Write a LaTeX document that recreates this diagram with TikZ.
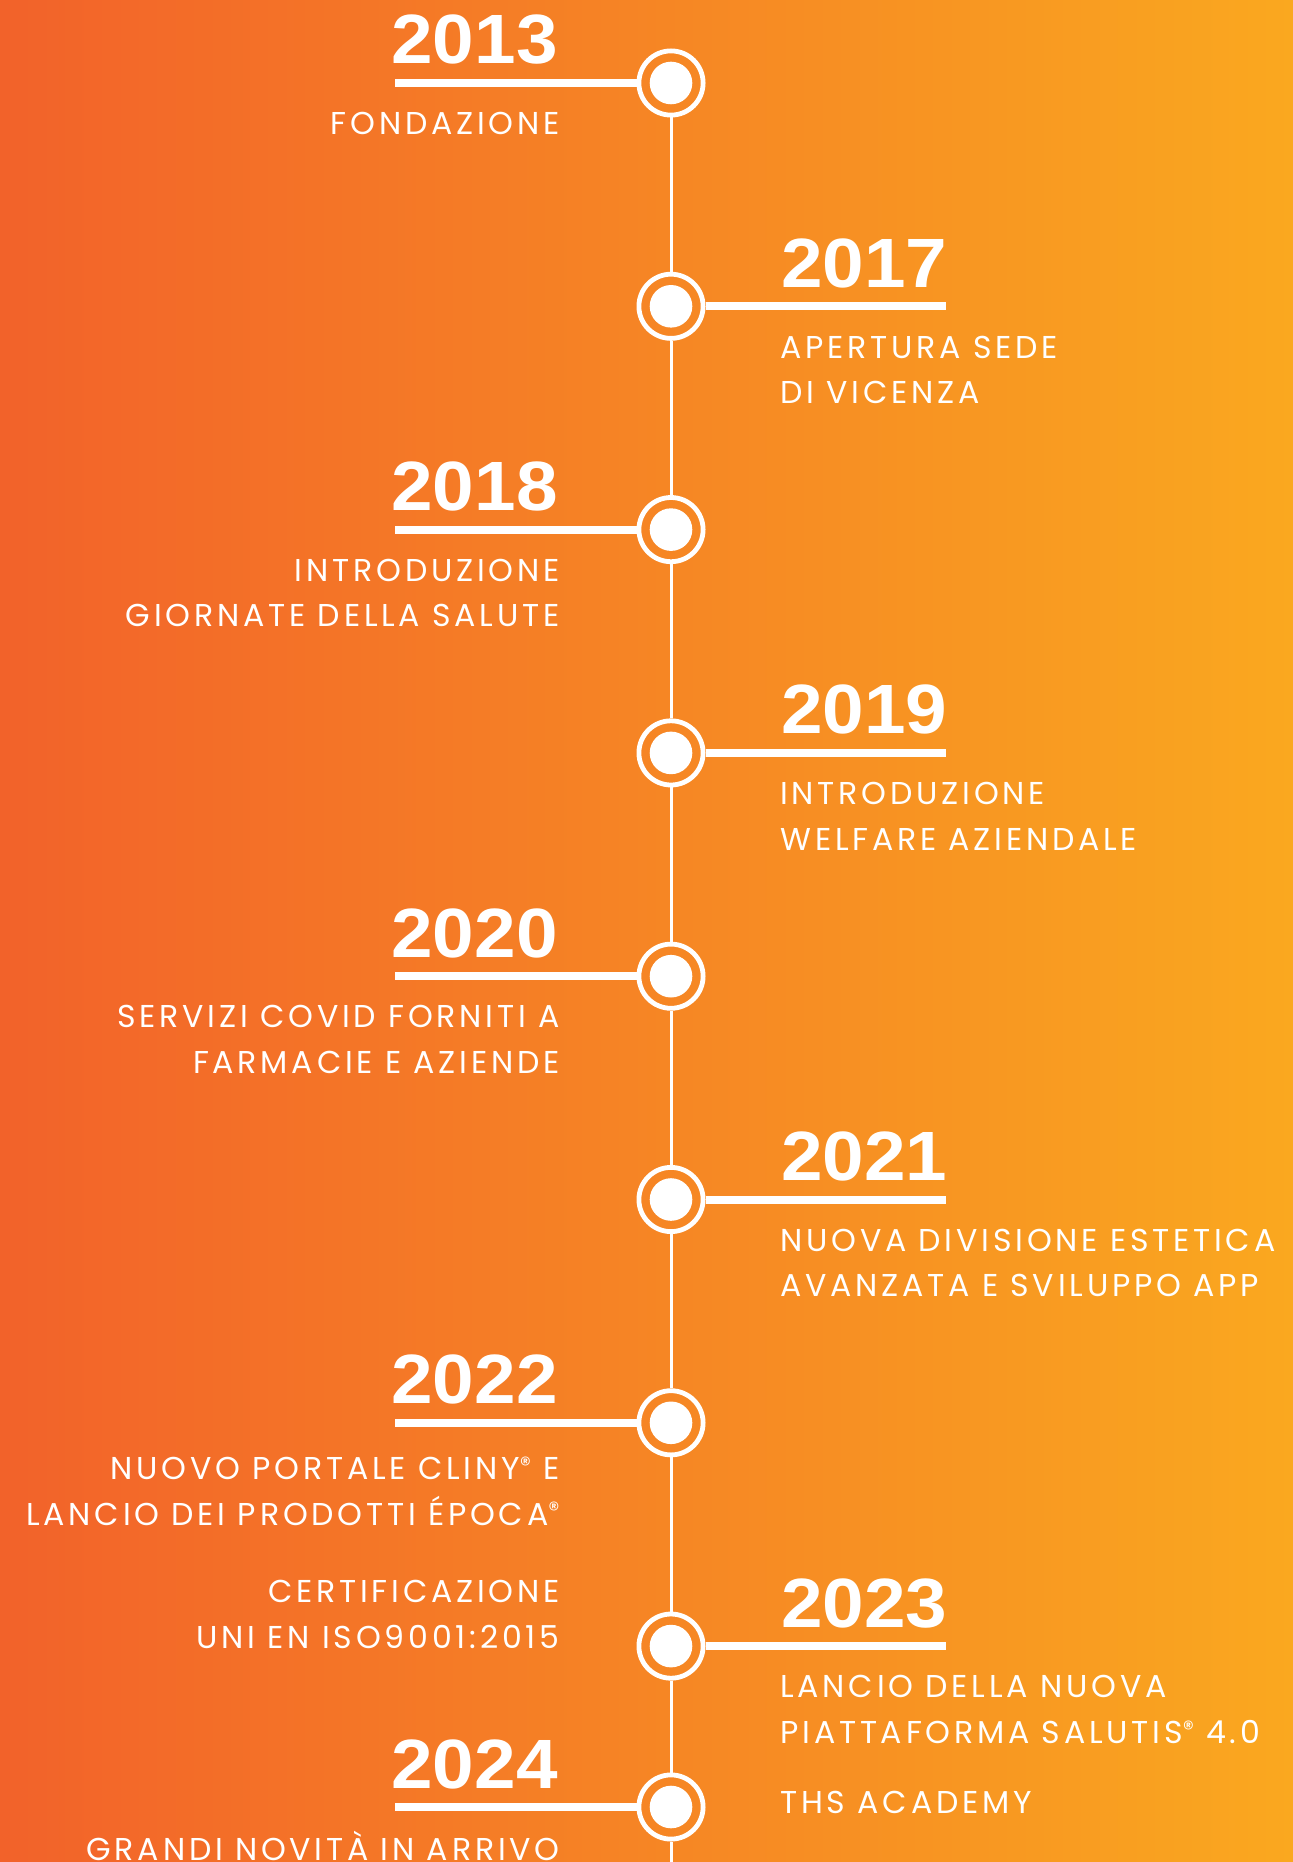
\documentclass[tikz,border=0pt]{standalone}
\usepackage{fontspec}
\usepackage{tikz}
\usetikzlibrary{
    positioning,
    calc
}
\newfontfamily\yearfamily{Liberation Sans}[FakeStretch=1.07]
\newfontfamily\notefamily{Poppins}[LetterSpace=12.0]
\newcommand{\regmark}{\smash{\raisebox{3.6pt}{\fontsize{11pt}{11pt}\selectfont ®}}}
\definecolor{WarmRed}{RGB}{242,98,42}
\definecolor{WarmAmber}{RGB}{250,168,31}
\tikzset{
    milestone/.style={circle, draw=white, line width=2.4pt, minimum size=32.1pt, inner sep=0pt,
        path picture={\fill[white] (path picture bounding box.center) circle (10.65pt);}},
    spine/.style={draw=white, line width=1.5pt},
    yearbar/.style={draw=white, line width=4pt},
    year/.style={font=\yearfamily\bfseries\fontsize{34.9pt}{40pt}\selectfont, text=white, inner sep=0pt},
    noteL/.style={font=\notefamily\fontsize{15.8pt}{22.8pt}\selectfont, text=white, inner sep=0pt, align=right, anchor=north east},
    noteR/.style={font=\notefamily\fontsize{15.8pt}{22.8pt}\selectfont, text=white, inner sep=0pt, align=left, anchor=north west}
}

\begin{document}
\begin{tikzpicture}[x=0.5pt, y=-0.5pt]
                    \useasboundingbox (0,0) rectangle (1293,1862);
                    \fill[left color=WarmRed, right color=WarmAmber] (0,0) rectangle (1293,1862);
                    \coordinate (Top) at (671,83);
                    \coordinate (SpineEnd) at (671,1862);
                    \def\RowGap{223.3}
                    \node[milestone] (c2013) at (Top) {};
                    \node[milestone] (c2017) at ($(Top)+(0,\RowGap)$) {};
                    \node[milestone] (c2018) at ($(Top)+(0,2*\RowGap)$) {};
                    \node[milestone] (c2019) at ($(Top)+(0,3*\RowGap)$) {};
                    \node[milestone] (c2020) at ($(Top)+(0,4*\RowGap)$) {};
                    \node[milestone] (c2021) at ($(Top)+(0,5*\RowGap)$) {};
                    \node[milestone] (c2022) at ($(Top)+(0,6*\RowGap)$) {};
                    \node[milestone] (c2023) at ($(Top)+(0,7*\RowGap)$) {};
                    \node[milestone] (c2024) at (671,1807) {};
                    \draw[spine] (c2013) -- (c2017);
                    \draw[spine] (c2017) -- (c2018);
                    \draw[spine] (c2018) -- (c2019);
                    \draw[spine] (c2019) -- (c2020);
                    \draw[spine] (c2020) -- (c2021);
                    \draw[spine] (c2021) -- (c2022);
                    \draw[spine] (c2022) -- (c2023);
                    \draw[spine] (c2023) -- (c2024);
                    \draw[spine] (c2024) -- (SpineEnd);
                    \coordinate (b2013) at ($(c2013)+(-276,0)$);
                    \coordinate (b2017) at ($(c2017)+(275,0)$);
                    \coordinate (b2018) at ($(c2018)+(-276,0)$);
                    \coordinate (b2019) at ($(c2019)+(275,0)$);
                    \coordinate (b2020) at ($(c2020)+(-276,0)$);
                    \coordinate (b2021) at ($(c2021)+(275,0)$);
                    \coordinate (b2022) at ($(c2022)+(-276,0)$);
                    \coordinate (b2023) at ($(c2023)+(275,0)$);
                    \coordinate (b2024) at ($(c2024)+(-276,0)$);
                    \draw[yearbar] (c2013) -- (b2013);
                    \draw[yearbar] (c2017) -- (b2017);
                    \draw[yearbar] (c2018) -- (b2018);
                    \draw[yearbar] (c2019) -- (b2019);
                    \draw[yearbar] (c2020) -- (b2020);
                    \draw[yearbar] (c2021) -- (b2021);
                    \draw[yearbar] (c2022) -- (b2022);
                    \draw[yearbar] (c2023) -- (b2023);
                    \draw[yearbar] (c2024) -- (b2024);
                    \node[year, anchor=base east] (y2013) at ($(c2013)+(-113,-19)$) {2013};
                    \node[noteL] (n2013) at ($(c2013)+(-111,29)$) {FONDAZIONE};
                    \node[year, anchor=base west] (y2017) at ($(c2017)+(110,-19)$) {2017};
                    \node[noteR] (n2017) at ($(c2017)+(109,29)$) {APERTURA SEDE\\DI VICENZA};
                    \node[year, anchor=base east] (y2018) at ($(c2018)+(-113,-19)$) {2018};
                    \node[noteL] (n2018) at ($(c2018)+(-111,29)$) {INTRODUZIONE\\GIORNATE DELLA SALUTE};
                    \node[year, anchor=base west] (y2019) at ($(c2019)+(110,-19)$) {2019};
                    \node[noteR] (n2019) at ($(c2019)+(109,29)$) {INTRODUZIONE\\WELFARE AZIENDALE};
                    \node[year, anchor=base east] (y2020) at ($(c2020)+(-113,-19)$) {2020};
                    \node[noteL] (n2020) at ($(c2020)+(-111,29)$) {SERVIZI COVID FORNITI A\\FARMACIE E AZIENDE};
                    \node[year, anchor=base west] (y2021) at ($(c2021)+(110,-19)$) {2021};
                    \node[noteR] (n2021) at ($(c2021)+(109,29)$) {NUOVA DIVISIONE ESTETICA\\AVANZATA E SVILUPPO APP};
                    \node[year, anchor=base east] (y2022) at ($(c2022)+(-113,-19)$) {2022};
                    \node[noteL] (n2022) at ($(c2022)+(-111,34)$) {NUOVO PORTALE CLINY\regmark{} E\\LANCIO DEI PRODOTTI ÉPOCA\regmark};
                    \node[noteL] (iso) [below left=27pt and 0pt of n2022.south east] {CERTIFICAZIONE\\UNI EN ISO9001:2015};
                    \node[year, anchor=base west] (y2023) at ($(c2023)+(110,-19)$) {2023};
                    \node[noteR] (n2023) at ($(c2023)+(109,29)$) {LANCIO DELLA NUOVA\\PIATTAFORMA SALUTIS\regmark{} 4.0};
                    \node[noteR] (ths) [below right=23.5pt and 0pt of n2023.south west] {THS ACADEMY};
                    \node[year, anchor=base east] (y2024) at ($(c2024)+(-113,-19)$) {2024};
                    \node[noteL, anchor=base east] (n2024) at ($(c2024)+(-111,53)$) {GRANDI NOVITÀ IN ARRIVO};
                \end{tikzpicture}
\end{document}
